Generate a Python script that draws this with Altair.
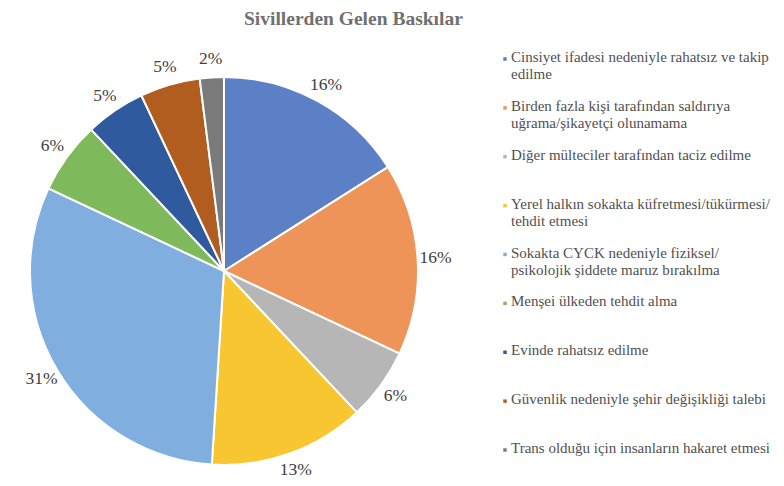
import altair as alt
import pandas as pd

title_text = "Sivillerden Gelen Baskılar"

categories = [
    "Cinsiyet ifadesi nedeniyle rahatsız ve takip\nedilme",
    "Birden fazla kişi tarafından saldırıya\nuğrama/şikayetçi olunamama",
    "Diğer mülteciler tarafından taciz edilme",
    "Yerel halkın sokakta küfretmesi/tükürmesi/\ntehdit etmesi",
    "Sokakta CYCK nedeniyle fiziksel/\npsikolojik şiddete maruz bırakılma",
    "Menşei ülkeden tehdit alma",
    "Evinde rahatsız edilme",
    "Güvenlik nedeniyle şehir değişikliği talebi",
    "Trans olduğu için insanların hakaret etmesi",
]
values = [16, 16, 6, 13, 31, 6, 5, 5, 2]
colors = ["#5B80C6", "#EE9458", "#B6B6B6", "#F7C630", "#7FAEDF",
          "#7EBA5B", "#2F5A9E", "#B15D20", "#7A7A7A"]

df = pd.DataFrame({
    "category": categories,
    "value": values,
    "idx": list(range(len(categories))),
})

SERIF = "'Liberation Serif', 'Times New Roman', 'DejaVu Serif', serif"
VIEW_TOP = 33
CX, CY = 224 - 8, 269 - VIEW_TOP

color = alt.Color("category:N", scale=alt.Scale(domain=categories, range=colors), legend=None)
theta = alt.Theta("value:Q", stack=True)
order = alt.Order("idx:Q")

base = alt.Chart(df)

pie = base.mark_arc(outerRadius=194, stroke="white", strokeWidth=2).encode(
    theta=theta, color=color, order=order,
    x=alt.value(CX), y=alt.value(CY),
)

labels = base.transform_calculate(
    pct="datum.value + '%'"
).mark_text(radius=212, font=SERIF, fontSize=17.5, color="#404040").encode(
    theta=theta, order=order, text="pct:N",
    x=alt.value(CX), y=alt.value(CY),
)

yscale = alt.Scale(domain=[0, 8], range=[57 - VIEW_TOP, 448 - VIEW_TOP])

markers = base.mark_square(size=12, opacity=1).encode(
    x=alt.value(505 - 8),
    y=alt.Y("idx:Q", scale=yscale, axis=None),
    color=color,
)

legend_text = base.mark_text(
    align="left", baseline="top", dy=-9, lineBreak="\n", lineHeight=17,
    font=SERIF, fontSize=15, color="#505050",
).encode(
    x=alt.value(511 - 8),
    y=alt.Y("idx:Q", scale=yscale, axis=None),
    text="category:N",
)

chart = alt.layer(pie, labels, markers, legend_text).properties(
    width=768, height=470,
    autosize=alt.AutoSizeParams(type="fit", contains="padding"),
    padding=0,
    title=alt.TitleParams(
        title_text, font=SERIF, fontSize=19.5, fontWeight="bold",
        color="#707070", anchor="start", dx=236, offset=6,
    ),
    background="white",
).configure_view(stroke=None)

chart.save("out.html", embed_options={"renderer": "svg", "actions": False})
